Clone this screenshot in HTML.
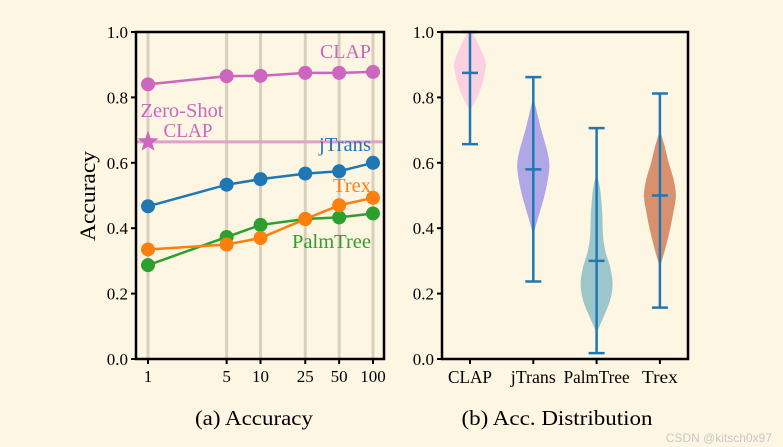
<!DOCTYPE html>
<html><head><meta charset="utf-8"><style>
html,body{margin:0;padding:0;background:#fdf6e3;}
svg{display:block;font-family:"Liberation Serif",serif;}
</style></head><body>
<svg id="c" width="783" height="447" viewBox="0 0 783 447">
<rect width="783" height="447" fill="#fdf6e3"/>
<g id="left"></g>
<g id="right"></g>
<text x="254" y="425" font-size="21" text-anchor="middle" textLength="118" lengthAdjust="spacingAndGlyphs">(a) Accuracy</text>
<text x="557" y="425" font-size="21" text-anchor="middle" textLength="191" lengthAdjust="spacingAndGlyphs">(b) Acc. Distribution</text>
<text x="772" y="442" font-size="12" text-anchor="end" fill="#c8c8c8" font-family="Liberation Sans,sans-serif">CSDN @kitsch0x97</text>
</svg>
<script>
const shots = [1,5,10,25,50,100];
const clapVals = [0.84,0.865,0.866,0.875,0.875,0.878];
const jtransVals = [0.467,0.533,0.55,0.567,0.574,0.6];
const trexVals = [0.335,0.35,0.37,0.428,0.47,0.493];
const palmVals = [0.287,0.373,0.41,0.428,0.433,0.445];
const zeroShot = 0.664;
const yTicks = [0.0,0.2,0.4,0.6,0.8,1.0];
const yTickLabels = ["0.0","0.2","0.4","0.6","0.8","1.0"];
const vCats = ["CLAP","jTrans","PalmTree","Trex"];
const vMin = [0.657,0.237,0.018,0.157];
const vMed = [0.875,0.58,0.3,0.5];
const vMax = [1.0,0.862,0.706,0.812];
const vProfileVals = [
 [0.76,0.8,0.84,0.88,0.9,0.92,0.96,1.0],
 [0.38,0.44,0.5,0.56,0.6,0.64,0.7,0.75,0.8],
 [0.08,0.13,0.18,0.23,0.28,0.33,0.38,0.45,0.52,0.57],
 [0.28,0.34,0.4,0.45,0.5,0.55,0.6,0.65,0.7]
];
const vProfileWidths = [
 [0,0.45,0.75,0.95,1.0,0.9,0.55,0.15],
 [0,0.35,0.7,0.95,1.0,0.85,0.5,0.25,0],
 [0,0.45,0.85,1.0,0.85,0.55,0.4,0.35,0.22,0],
 [0,0.35,0.65,0.85,1.0,0.85,0.55,0.3,0]
];
const vColors = ["#fbd0e0","#b0a8e6","#9dc6cb","#d8916c"];

const NS="http://www.w3.org/2000/svg";
function mk(p,t,a){const e=document.createElementNS(NS,t);for(const k in a)e.setAttribute(k,a[k]);p.appendChild(e);return e;}
const L=document.getElementById('left'), R=document.getElementById('right');
const yTop=32, yBot=359;
const y=v=>yBot-(yBot-yTop)*v;
const lx0=136,lx1=384;
const xl=v=>148+Math.log10(v)*112.5;
shots.forEach(s=>{const g=mk(L,'line',{x1:xl(s),x2:xl(s),y1:yTop,y2:yBot,stroke:'#d8d0bc','stroke-width':3});

});
const zl=mk(L,'line',{x1:lx0,x2:lx1,y1:y(zeroShot),y2:y(zeroShot),stroke:'#e0a0cc','stroke-width':3});


function star(cx,cy,r){let p=[];for(let i=0;i<10;i++){const a=-Math.PI/2+i*Math.PI/5;const rr=i%2?r*0.42:r;p.push((cx+rr*Math.cos(a)).toFixed(1)+','+(cy+rr*Math.sin(a)).toFixed(1));}return p.join(' ');}
const st=mk(L,'polygon',{points:star(xl(1),y(zeroShot),11),fill:'#cc66bf'});


function series(vals,col,name){
  const g=mk(L,'g',{});
  
  
  mk(g,'polyline',{points:vals.map((v,i)=>xl(shots[i])+','+y(v)).join(' '),fill:'none',stroke:col,'stroke-width':2.5});
  vals.forEach((v,i)=>{const c=mk(g,'circle',{cx:xl(shots[i]),cy:y(v),r:7,fill:col});
  
  });
}
series(palmVals,'#2ca02c','palmtree');
series(trexVals,'#ff7f0e','trex');
series(jtransVals,'#1f77b4','jtrans');
series(clapVals,'#cc66bf','clap');
function lab(p,x,yy,t,col,anchor,name,len){const e=mk(p,'text',{x:x,y:yy,'font-size':19.5,fill:col,'text-anchor':anchor,textLength:len,lengthAdjust:'spacingAndGlyphs'});e.textContent=t;

return e;}
lab(L,371,58,'CLAP','#cc66bf','end','clap-label',51);
lab(L,182,117,'Zero-Shot','#cc66bf','middle','zero-shot-label',83);
lab(L,188,137,'CLAP','#cc66bf','middle','zero-shot-label-2',49);
lab(L,371,151,'jTrans','#1f77b4','end','jtrans-label',52);
lab(L,371,192,'Trex','#ff7f0e','end','trex-label',38);
lab(L,371,248,'PalmTree','#2ca02c','end','palmtree-label',79);
function axes(p,x0,x1,name){
  const f=mk(p,'rect',{x:x0,y:yTop,width:x1-x0,height:yBot-yTop,fill:'none',stroke:'#000','stroke-width':2.5});
  
  
  yTicks.forEach((v,i)=>{mk(p,'line',{x1:x0-5,x2:x0,y1:y(v),y2:y(v),stroke:'#000','stroke-width':2});
    const t=mk(p,'text',{x:x0-8,y:y(v)+6,'font-size':17,'text-anchor':'end'});t.textContent=yTickLabels[i];
    
    });
}
axes(L,lx0,lx1,'left');
shots.forEach(s=>{mk(L,'line',{x1:xl(s),x2:xl(s),y1:yBot,y2:yBot+5,stroke:'#000','stroke-width':2});
  const t=mk(L,'text',{x:xl(s),y:382,'font-size':17,'text-anchor':'middle'});t.textContent=String(s);
  
  });
const yl=mk(L,'text',{x:0,y:0,'font-size':22,'text-anchor':'middle',textLength:90,lengthAdjust:'spacingAndGlyphs',transform:'translate(95,196) rotate(-90)'});yl.textContent='Accuracy';


const rx0=442,rx1=688;
const xr=i=>470+i*63.3;
function smooth(pts){let d='M'+pts[0][0]+','+pts[0][1];
  for(let i=0;i<pts.length-1;i++){const p0=pts[Math.max(0,i-1)],p1=pts[i],p2=pts[i+1],p3=pts[Math.min(pts.length-1,i+2)];
    const c1=[p1[0]+(p2[0]-p0[0])/6,p1[1]+(p2[1]-p0[1])/6],c2=[p2[0]-(p3[0]-p1[0])/6,p2[1]-(p3[1]-p1[1])/6];
    d+=' C'+c1.map(n=>n.toFixed(1)).join(',')+' '+c2.map(n=>n.toFixed(1)).join(',')+' '+p2[0].toFixed(1)+','+p2[1].toFixed(1);}
  return d;}
const labLens=[44,45,66,36];
vCats.forEach((c,i)=>{
  const cx=xr(i), W=16;
  const pv=vProfileVals[i], pw=vProfileWidths[i];
  const rightSide=pv.map((v,k)=>[cx+pw[k]*W,y(v)]);
  const leftSide=pv.map((v,k)=>[cx-pw[k]*W,y(v)]).reverse();
  const d=smooth(rightSide)+' L'+smooth(leftSide).slice(1)+' Z';
  const vi=mk(R,'path',{d:d,fill:vColors[i]});
  
  
  const g=mk(R,'g',{stroke:'#1f77b4','stroke-width':2.5});
  
  
  mk(g,'line',{x1:cx,x2:cx,y1:y(vMin[i]),y2:y(vMax[i])});
  [vMin[i],vMed[i],vMax[i]].forEach(v=>mk(g,'line',{x1:cx-8,x2:cx+8,y1:y(v),y2:y(v)}));
  mk(R,'line',{x1:cx,x2:cx,y1:yBot,y2:yBot+5,stroke:'#000','stroke-width':2});
  const t=mk(R,'text',{x:cx,y:383,'font-size':18,'text-anchor':'middle',textLength:labLens[i],lengthAdjust:'spacingAndGlyphs'});t.textContent=c;
  
  
});
axes(R,rx0,rx1,'right');
</script>
</body></html>
